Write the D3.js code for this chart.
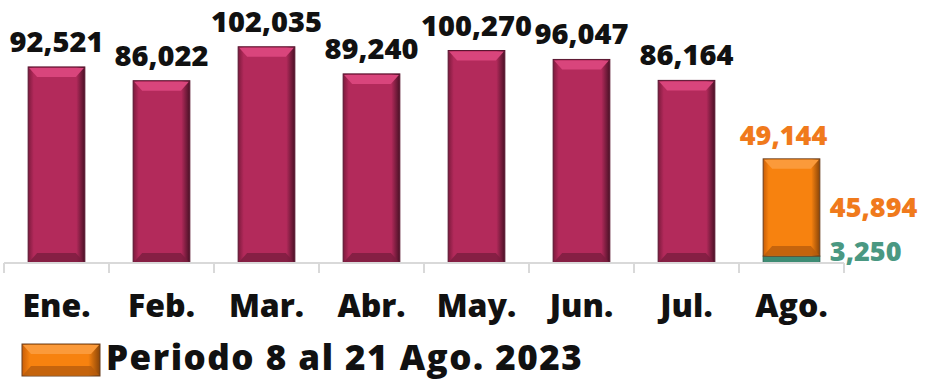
<!DOCTYPE html>
<html lang="es">
<head>
<meta charset="utf-8">
<title>Mensual 2023</title>
<script src="https://d3js.org/d3.v7.min.js"></script>
<style>
  body { margin: 0; background: #fff; }
  svg text { font-family: "Open Sans", sans-serif; font-weight: 800; }
</style>
</head>
<body>
<script>
// datos
var meses = ["Ene.", "Feb.", "Mar.", "Abr.", "May.", "Jun.", "Jul.", "Ago."];
var totales = [92521, 86022, 102035, 89240, 100270, 96047, 86164, 49144];
var agoPeriodo = 45894;   // 8 al 21 Ago.
var agoResto = 3250;
var leyenda = "Periodo 8 al 21 Ago. 2023";

var w = 935, h = 382;
var base = 263;

var svg = d3.select("body").append("svg")
    .attr("width", w).attr("height", h);

var x = d3.scaleBand()
    .domain(meses)
    .range([4, 844])
    .paddingInner(0.46)
    .paddingOuter(0.23);

var y = d3.scaleLinear()
    .domain([0, 124100])
    .range([base, 0]);

// gradientes para el efecto bisel
var defs = svg.append("defs");
function grad(id, c1, c2, c3) {
  var g = defs.append("linearGradient").attr("id", id)
      .attr("x1", "0").attr("x2", "1").attr("y1", "0").attr("y2", "0");
  g.append("stop").attr("offset", "0").attr("stop-color", c1);
  g.append("stop").attr("offset", "0.1").attr("stop-color", c2);
  g.append("stop").attr("offset", "0.85").attr("stop-color", c2);
  g.append("stop").attr("offset", "1").attr("stop-color", c3);
}
grad("gRojo", "#7d1a3d", "#b32a5b", "#4a1126");
grad("gNaranja", "#c95e08", "#f7820f", "#8a4508");

// dibuja barra con bisel
function barra(g, x0, y0, bw, bh, fill, top, bottom, edge) {
  g.append("rect").attr("x", x0).attr("y", y0).attr("width", bw).attr("height", bh)
    .attr("fill", fill).attr("stroke", edge).attr("stroke-width", 1);
  var b = Math.min(10, bh / 3);
  g.append("path")
    .attr("d", "M" + (x0 + 1) + "," + (y0 + 1) + "H" + (x0 + bw - 1) +
      "L" + (x0 + bw - 9) + "," + (y0 + b) + "H" + (x0 + 9) + "Z")
    .attr("fill", top);
  g.append("path")
    .attr("d", "M" + (x0 + 1) + "," + (y0 + bh - 1) + "H" + (x0 + bw - 1) +
      "L" + (x0 + bw - 9) + "," + (y0 + bh - b) + "H" + (x0 + 9) + "Z")
    .attr("fill", bottom).attr("opacity", 0.8);
}

var bw = x.bandwidth();

// barras enero - julio
meses.slice(0, 7).forEach(function (m, i) {
  var g = svg.append("g");
  barra(g, x(m), y(totales[i]), bw, base - y(totales[i]),
        "url(#gRojo)", "#d9457c", "#7a1d3f", "#5a1530");
  svg.append("text")
    .attr("x", x(m) + bw / 2)
    .attr("y", y(totales[i]) - 15)
    .attr("text-anchor", "middle")
    .attr("font-size", 29)
    .attr("fill", "#111")
    .text(d3.format(",")(totales[i]));
});

// agosto apilado
var xa = x("Ago.");
var g2 = svg.append("g");
g2.append("rect")
  .attr("x", xa).attr("y", y(agoResto))
  .attr("width", bw).attr("height", base - y(agoResto))
  .attr("fill", "#3e8c74").attr("stroke", "#2d6656");
barra(g2, xa, y(agoResto + agoPeriodo), bw, y(agoResto) - y(agoResto + agoPeriodo),
      "url(#gNaranja)", "#fb9a3a", "#b85d0c", "#6b4020");

svg.append("text")
  .attr("x", xa + bw / 2 - 8)
  .attr("y", y(totales[7]) - 14)
  .attr("text-anchor", "middle")
  .attr("font-size", 27).attr("fill", "#f07a1c")
  .text(d3.format(",")(totales[7]));
svg.append("text")
  .attr("x", xa + bw + 10)
  .attr("y", (y(agoResto) + y(agoResto + agoPeriodo)) / 2 + 10)
  .attr("font-size", 27).attr("fill", "#f07a1c")
  .text(d3.format(",")(agoPeriodo));
svg.append("text")
  .attr("x", xa + bw + 10)
  .attr("y", base - 2)
  .attr("font-size", 27).attr("fill", "#4a9882")
  .text(d3.format(",")(agoResto));

// eje x
var eje = svg.append("g").attr("transform", "translate(0," + base + ")");
eje.append("line").attr("x1", 4).attr("x2", 844)
  .attr("stroke", "#d9d9d9").attr("stroke-width", 2);
var bordes = meses.map(function (m) { return x(m) - x.step() * x.paddingInner() / 2; });
bordes.push(844);
eje.selectAll("line.tick").data(bordes).enter().append("line")
  .attr("x1", function (d) { return d; }).attr("x2", function (d) { return d; })
  .attr("y1", 0).attr("y2", 10)
  .attr("stroke", "#d9d9d9").attr("stroke-width", 2);
eje.selectAll("text").data(meses).enter().append("text")
  .attr("x", function (d) { return x(d) + bw / 2; })
  .attr("y", 54)
  .attr("text-anchor", "middle")
  .attr("font-size", 32)
  .attr("fill", "#111")
  .text(function (d) { return d; });

// leyenda
var ley = svg.append("g");
barra(ley, 22, 344, 78, 32, "url(#gNaranja)", "#fb9a3a", "#b85d0c", "#6b4020");
ley.append("text").attr("x", 106).attr("y", 370)
  .attr("font-size", 35).attr("letter-spacing", 1.5)
  .attr("fill", "#111")
  .text(leyenda);
</script>
</body>
</html>
